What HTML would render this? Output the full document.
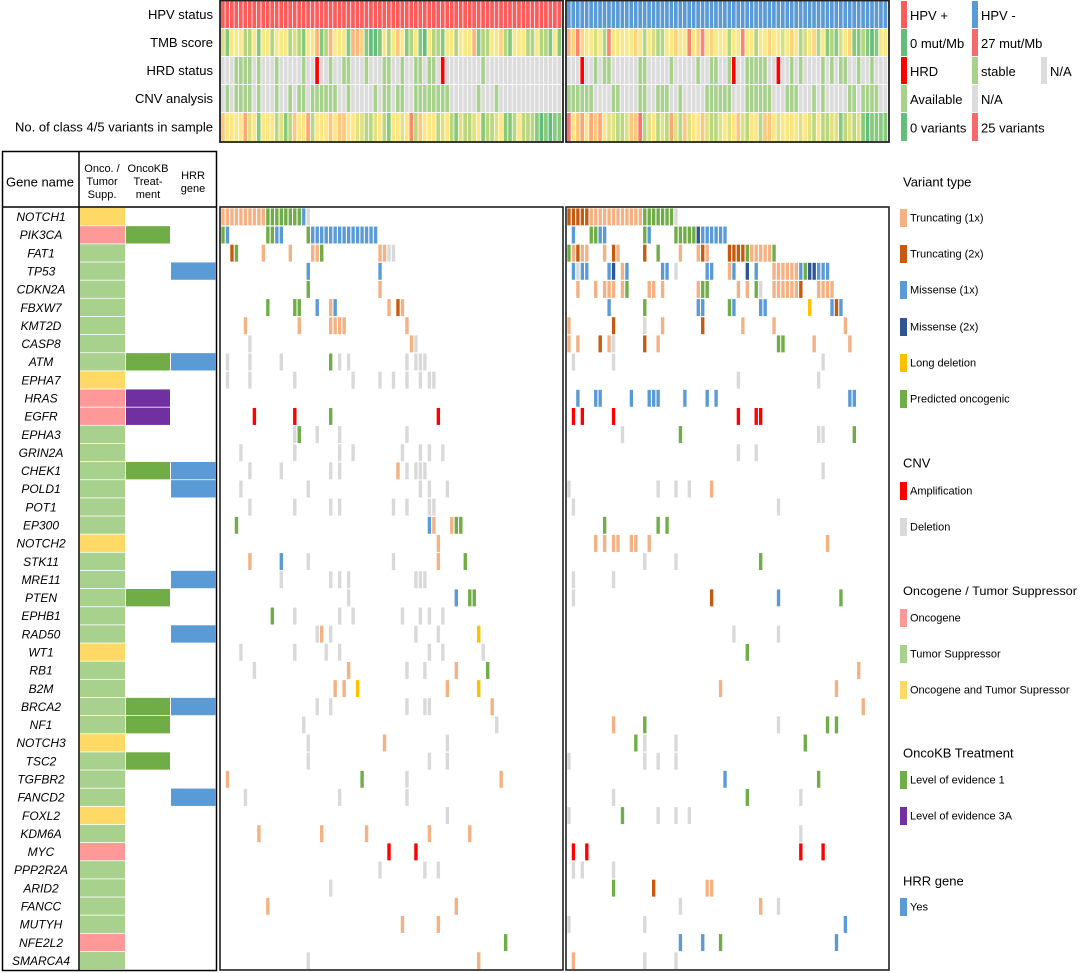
<!DOCTYPE html>
<html><head><meta charset="utf-8"><style>
html,body{margin:0;padding:0;background:#fff;}
svg{display:block;font-family:"Liberation Sans",sans-serif;}
</style></head><body>
<svg id="chart" width="1080" height="973" viewBox="0 0 1080 973" xmlns="http://www.w3.org/2000/svg"></svg>
<script>
const genes=["NOTCH1","PIK3CA","FAT1","TP53","CDKN2A","FBXW7","KMT2D","CASP8","ATM","EPHA7","HRAS","EGFR","EPHA3","GRIN2A","CHEK1","POLD1","POT1","EP300","NOTCH2","STK11","MRE11","PTEN","EPHB1","RAD50","WT1","RB1","B2M","BRCA2","NF1","NOTCH3","TSC2","TGFBR2","FANCD2","FOXL2","KDM6A","MYC","PPP2R2A","ARID2","FANCC","MUTYH","NFE2L2","SMARCA4"];
const oncoRole="BOTTTTTTTBOOTTTTTTBTTTTTBTTTTBTTTBTOTTTTOT";
const oncoKB=["","1","","","","","","","1","","3A","3A","","","1","","","","","","","1","","","","","","1","1","","1","","","","","","","","","","",""];
const hrrGene=[0,0,0,1,0,0,0,0,1,0,0,0,0,0,1,1,0,0,0,0,1,0,0,1,0,0,0,1,0,0,0,0,1,0,0,0,0,0,0,0,0,0];
const nLeft=76, nRight=72;
const tmbLeft=[10,3,13,13,13,7,7,13,3,13,13,7,13,13,13,7,10,7,3,13,13,19,3,7,19,13,13,13,3,19,19,16,3,0,0,3,13,7,13,17,13,3,7,13,3,0,13,7,7,3,13,13,7,13,13,13,19,3,7,7,13,13,16,7,3,13,13,13,7,7,13,7,7,3,13,3];
const tmbRight=[19,16,24,16,13,13,10,13,7,24,13,13,13,13,13,16,13,7,13,10,7,7,13,13,16,13,13,24,13,16,24,13,16,13,13,13,7,13,13,24,13,13,7,13,13,16,13,13,10,13,16,13,7,10,13,16,7,13,3,7,3,10,13,16,3,3,7,3,0,3,13,13];
const hrdStableLeft=[3,4,5,6,8,12,18,24,27,28,32,36,37,40,43,44,46,47,58];
const hrdPosLeft=[21,49];
const hrdStableRight=[6,8,9,16,17,23,29,32,33,36,40,41,42,43,44,50,52,57,59,61,62,65,68];
const hrdPosRight=[3,37,47];
const cnvLeft=[1,3,4,5,6,8,12,15,17,18,20,21,22,23,24,25,28,34,36,37,39,40,43,44,45,46,47,48,49,50,57,61];
const cnvRight=[0,1,2,3,4,5,10,11,16,17,20,21,22,25,31,32,33,34,35,36,40,41,42,43,44,45,49,50,51,55,57,63,64,66,67,68,69];
const varLeft=[16,13,13,13,13,19,10,13,3,13,13,13,7,10,3,7,16,13,13,19,7,13,13,13,16,13,16,16,13,13,10,10,7,7,10,13,7,3,13,13,10,13,22,7,16,13,13,13,7,10,13,7,3,10,7,7,10,13,3,7,7,10,13,3,3,7,13,7,7,7,3,0,3,0,3,3];
const varRight=[24,13,16,19,13,19,16,19,13,10,10,7,7,10,16,16,24,7,10,13,7,10,7,19,10,7,16,10,13,13,16,10,7,7,10,13,10,13,16,10,7,13,13,7,16,16,13,10,13,13,13,13,10,13,10,7,13,7,7,10,10,3,7,10,7,10,3,0,3,3,3,3];
// marks: t=trunc1 T=trunc2 m=missense1 M=missense2 d=long deletion p=predicted oncogenic a=amplification x=deletion
const marksLeft=["t0-9 p10-17 m18 x19","p0 m1 p10-11 m12-13 p19 m20-34","T2 p3 t9 t15 t20-21 p22 t35-36 x37-38","m19 m35","p19 t35","p10 p16 p17 m21 t24 m25 t37 T39 t40","t5 t17 t24-27 t41","x6 t42 x43","x1 x6 x13 p24 x26 x28 x41 x43-45","x1 x6 x16 x29 x35 x38 x41 x44 x46-47","","a7 a16 p24 a48","x16 p17 x21 x26 x41","x4 x16 x26 x29 x40 x44 x46 x49","x6 x13 x24 x26 t39 x41 x43-45","x4 x19 x44 x46 x50","x6 x16 x24 x26 x38 x41 x46-47","p3 m46 t47 t51 p52-53","t48","t6 m13 x19 x38 t48 p54","x13 x24 x26 x28 x43-45","x28 m52 p55-56","p11 x16 x26 x29 x40 x44 x46 x49","x21 t22 x24 x43 x48 d57","x4 x16 x23 x26 x46 x49 x58","x7 t28 x41 x45 t52 p59","t25 t27 d30 t50 d57","x21 x24 x41 x45-46 t60","x18 x61","x19 t36 x50","x19 x46 x50","t1 p31 x41 t62","x5 x26 x41","x50","t8 t22 t32 t46 t55","a37 a43","x35 x45 x48","x24","t10 t52","t40 t48","p63","x19 t57"];
const marksRight=["T0-4 t5-16 p17-23 x24","m1 p5-6 m7-8 p17 m18 p24-28 M29 m30-35","p0 t1 T2 t3-4 t8 T10 t11 T17 p20 t25 t29 T30 t31 T36-39 p40 t41-45 p46","m1 x2 m3-4 m9 M10 t12 m13 m21-22 x24 m31-32 t36 m37 M40 m42 t46-51 m52 p53 M54-55 m56-58","t2 t6 t8-10 t12 p13 t18-19 t21 t29 p30 p31 t38 t40 p42 x43 t46-51 T52 t56-59","m9 p17 m29-30 p36 m37 m43-44 d54 m59 T60 m61","t0 T10 x17 t21 T30 t39 t46 t62","t0 t2 T7 t9 x10 T17 t20 p47-48 t55 t63","x1 x10 x57","x38 x56","m2 m6-7 m14 m18-20 m26 m31 m33 m63-64","a1 a3 a10 a38 a42-43","x12 p25 x56-57 p64","x38 x42","x57","x0 x20 x24 x27 t32","x1 x47","p8 p20 p22","t6 t8 t10-11 t14-15 t18 t58","x17 x24 p43","x1 x10","x1 T32 m47 p61","","x37 x47","p40","t65","t34 t60","t66","t10 p17 x47 p58 p60","p15 x17 x24 p53","x0 x17 x20 x24","m35 p56","x10 p40 x52","x0 p12 x20 x24 x27","x52","a1 a4 a52 a57","x1 x3 x10","p10 T19 t31-32","x25 t43 x47","x0 x17 m62","m25 m30 p34 m60","t1 x17 x24"];

const markColor={t:"#f4b183",T:"#c55a11",m:"#5b9bd5",M:"#2f5597",d:"#ffc000",p:"#70ad47",a:"#ff0000",x:"#d9d9d9"};
const roleColor={O:"#ff9999",T:"#a9d18e",B:"#ffd966"};
const kbColor={"1":"#70ad47","3A":"#7030a0"};

const svg=document.getElementById('chart');
const NS="http://www.w3.org/2000/svg";
function mk(tag,attrs,parent){const e=document.createElementNS(NS,tag);for(const k in attrs)e.setAttribute(k,attrs[k]);(parent||svg).appendChild(e);return e;}
function txt(x,y,s,size,anchor,parent,extra){const t=mk('text',Object.assign({x:x,y:y,'font-size':size,'text-anchor':anchor||'start','dominant-baseline':'central',fill:'#000'},extra||{}),parent);t.textContent=s;return t;}

const blocks={L:{x0:221,x1:562,n:nLeft},R:{x0:567,x1:888,n:nRight}};
function colX(b,i){const B=blocks[b];return B.x0+i*(B.x1-B.x0)/B.n;}
function colW(b){const B=blocks[b];return (B.x1-B.x0)/B.n;}
function lerp(a,b,t){return Math.round(a+(b-a)*t);}
function heat(v,max){const g=[99,190,123],y=[255,235,132],r=[248,105,107];const mid=max/2;let c;if(v<=mid){const t=v/mid;c=[0,1,2].map(i=>lerp(g[i],y[i],t));}else{const t=(v-mid)/(max-mid);c=[0,1,2].map(i=>lerp(y[i],r[i],t));}return `rgb(${c[0]},${c[1]},${c[2]})`;}

// ---- top tracks ----
const trackY=[1,29,57,85,113], trackH=[27,27,27,27,28];
const trackLabels=["HPV status","TMB score","HRD status","CNV analysis","No. of class 4/5 variants in sample"];
const topG=mk('g',{});


trackLabels.forEach((s,i)=>{const t=txt(213,trackY[i]+trackH[i]/2,s,13,'end',topG);});
function topCell(b,i,row,color){const r=mk('rect',{x:colX(b,i),y:trackY[row],width:colW(b)-0.8,height:trackH[row],fill:color},topG);}
[['L',tmbLeft,hrdStableLeft,hrdPosLeft,cnvLeft,varLeft,'#ff5b5b'],['R',tmbRight,hrdStableRight,hrdPosRight,cnvRight,varRight,'#5b9bd5']].forEach(([b,tmb,hs,hp,cnv,vr,hpv])=>{
  for(let i=0;i<blocks[b].n;i++){
    topCell(b,i,0,hpv);
    topCell(b,i,1,heat(tmb[i]??7,27));
    topCell(b,i,2,hp.includes(i)?'#ff0000':(hs.includes(i)?'#a9d18e':'#dcdcdc'));
    topCell(b,i,3,cnv.includes(i)?'#a9d18e':'#dcdcdc');
    topCell(b,i,4,heat(vr[i]??7,25));
  }
});
[['L',220,563],['R',566,889]].forEach(([b,a,c])=>{const r=mk('rect',{x:a,y:0.5,width:c-a,height:141.5,fill:'none',stroke:'#222','stroke-width':1.8},topG);});

// top legend
const topLeg=[[["#ff5b5b","HPV +"],["#5b9bd5","HPV -"]],[["#63be7b","0 mut/Mb"],["#f8696b","27 mut/Mb"]],[["#ff0000","HRD"],["#a9d18e","stable"],["#dcdcdc","N/A"]],[["#a9d18e","Available"],["#dcdcdc","N/A"]],[["#63be7b","0 variants"],["#f8696b","25 variants"]]];
const legX=[901,972,1041];
topLeg.forEach((row,ri)=>row.forEach((it,ci)=>{const g=mk('g',{});mk('rect',{x:legX[ci],y:trackY[ri],width:6,height:trackH[ri],fill:it[0]},g);txt(legX[ci]+9,trackY[ri]+trackH[ri]/2+1,it[1],13,'start',g);}));

// ---- gene table ----
const gTop=208, rowH=(970-208)/genes.length;
const tbl=mk('g',{});


mk('rect',{x:2.5,y:151.5,width:214,height:819,fill:'#fff',stroke:'#000','stroke-width':1.5},tbl);
mk('line',{x1:79,y1:151,x2:79,y2:970,stroke:'#000','stroke-width':1.5},tbl);
mk('line',{x1:2,y1:207,x2:216,y2:207,stroke:'#000','stroke-width':1.5},tbl);
txt(40,182,"Gene name",13,'middle',tbl);
[["Onco. /",169],["Tumor",182],["Supp.",195]].forEach(a=>txt(102,a[1],a[0],11,'middle',tbl));
[["OncoKB",169],["Treat-",182],["ment",195]].forEach(a=>txt(148,a[1],a[0],11,'middle',tbl));
[["HRR",176],["gene",189]].forEach(a=>txt(193,a[1],a[0],11,'middle',tbl));
genes.forEach((gname,i)=>{
  const y=gTop+i*rowH;
  const t=txt(41,y+rowH/2,gname,12,'middle',tbl,{'font-style':'italic'});
  
  
  const r1=mk('rect',{x:80,y:y,width:45,height:rowH-0.8,fill:roleColor[oncoRole[i]]},tbl);
  
  
  if(oncoKB[i]){const r2=mk('rect',{x:126,y:y,width:44,height:rowH-0.8,fill:kbColor[oncoKB[i]]},tbl);}
  if(hrrGene[i]){const r3=mk('rect',{x:171,y:y,width:45,height:rowH-0.8,fill:'#5b9bd5'},tbl);}
});

// ---- main grid ----
const grid=mk('g',{});


function parseMarks(s){const out=[];s.split(' ').filter(Boolean).forEach(tok=>{const ty=tok[0];const rng=tok.slice(1).split('-').map(Number);const a=rng[0],b=rng.length>1?rng[1]:rng[0];for(let c=a;c<=b;c++)out.push([c,ty]);});return out;}
[['L',marksLeft],['R',marksRight]].forEach(([b,arr])=>{
  arr.forEach((s,gi)=>{
    parseMarks(s).forEach(([c,ty])=>{
      const r=mk('rect',{x:colX(b,c)+0.3,y:gTop+gi*rowH+0.4,width:colW(b)-1.1,height:rowH-1.2,fill:markColor[ty]},grid);
      
      
    });
  });
});
[['L',220,563],['R',566,889]].forEach(([b,a,c])=>{const r=mk('rect',{x:a,y:207,width:c-a,height:763,fill:'none',stroke:'#222','stroke-width':1.6},grid);});

// ---- right legend ----
const leg=mk('g',{});


const titles=[["Variant type",182],["CNV",463],["Oncogene / Tumor Suppressor",591],["OncoKB Treatment",753],["HRR gene",881]];
titles.forEach(t=>{const e=txt(903,t[1],t[0],t[0].length>20?12:13,'start',leg);if(t[0].length>20){e.setAttribute('textLength','174');e.setAttribute('lengthAdjust','spacingAndGlyphs');}});
const items=[["#f4b183","Truncating (1x)",209],["#c55a11","Truncating (2x)",245],["#5b9bd5","Missense (1x)",281],["#2f5597","Missense (2x)",318],["#ffc000","Long deletion",354],["#70ad47","Predicted oncogenic",390],["#ff0000","Amplification",482],["#d9d9d9","Deletion",518],["#ff9999","Oncogene",609],["#a9d18e","Tumor Suppressor",645],["#ffd966","Oncogene and Tumor Supressor",681],["#70ad47","Level of evidence 1",771],["#7030a0","Level of evidence 3A",807],["#5b9bd5","Yes",898]];
items.forEach(it=>{const g=mk('g',{},leg);mk('rect',{x:900,y:it[2],width:7,height:18,fill:it[0]},g);txt(910,it[2]+9.5,it[1],11,'start',g);});
</script>
</body></html>
